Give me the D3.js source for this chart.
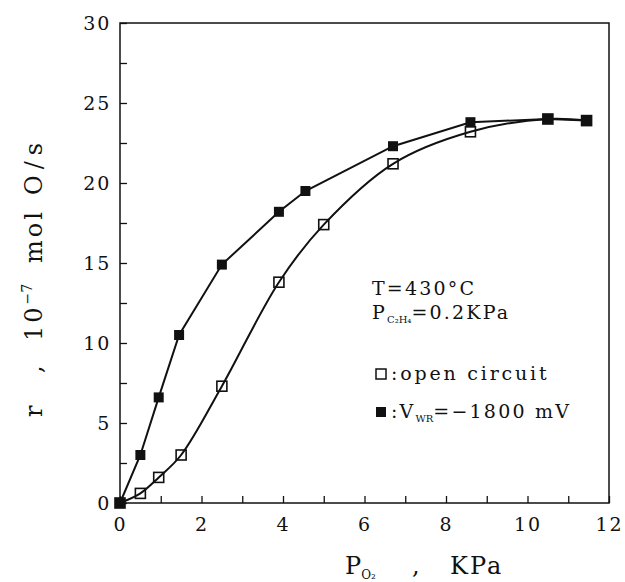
<!DOCTYPE html>
<meta charset="utf-8">
<style>
  body { margin: 0; background: #fff; }
  text { font-family: "DejaVu Serif", serif; fill: #111; }
  .tick text { font-size: 19px; letter-spacing: 2px; }
  .note { font-size: 19px; letter-spacing: 2.2px; }
</style>
<body>
<script src="https://cdn.jsdelivr.net/npm/d3@7"></script>
<script>
// P_O2 (KPa) and rate r (1e-7 mol O/s)
const xClosed = [0, 0.5, 0.95, 1.45, 2.5, 3.9, 4.55, 6.7, 8.6, 10.5, 11.45];
const yClosed = [0, 3.0, 6.6, 10.5, 14.9, 18.2, 19.5, 22.3, 23.8, 24.0, 23.9];
const xOpen = [0, 0.5, 0.95, 1.5, 2.5, 3.9, 5.0, 6.7, 8.6, 10.5, 11.45];
const yOpen = [0, 0.6, 1.6, 3.0, 7.3, 13.8, 17.4, 21.2, 23.2, 24.0, 23.9];
const xTicks = [0, 2, 4, 6, 8, 10, 12];
const yTicks = [0, 5, 10, 15, 20, 25, 30];

const W = 625, H = 582;
const m = { left: 120, right: 16, top: 23, bottom: 79 };

const svg = d3.select('body').append('svg')
  .attr('width', W).attr('height', H);

const x = d3.scaleLinear().domain([0, 12]).range([m.left, W - m.right]);
const y = d3.scaleLinear().domain([0, 30]).range([H - m.bottom, m.top]);

// frame
svg.append('rect')
  .attr('x', x(0)).attr('y', y(30))
  .attr('width', x(12) - x(0)).attr('height', y(0) - y(30))
  .attr('fill', 'none').attr('stroke', '#111').attr('stroke-width', 1.5);

// x axis, inward ticks
const gx = svg.append('g').attr('transform', `translate(0,${y(0)})`)
  .call(d3.axisBottom(x).tickValues(d3.range(0, 12.1, 1)).tickSize(-7)
    .tickFormat(d => xTicks.includes(d) ? d : ''));
gx.select('.domain').remove();
gx.selectAll('.tick line').attr('stroke', '#111').attr('stroke-width', 1.3);
gx.selectAll('.tick text').attr('dy', '1.3em');

// y axis, inward ticks
const gy = svg.append('g').attr('transform', `translate(${x(0)},0)`)
  .call(d3.axisLeft(y).tickValues(d3.range(0, 30.1, 2.5)).tickSize(-7)
    .tickFormat(d => yTicks.includes(d) ? d : ''));
gy.select('.domain').remove();
gy.selectAll('.tick line').attr('stroke', '#111').attr('stroke-width', 1.3);
gy.selectAll('.tick text').attr('dx', '-0.3em').attr('dy', '0.35em');

// axis titles (wide spacing as in the original typesetting)
const xl = svg.append('text').attr('y', 574).style('font-size', '24px');
xl.append('tspan').attr('x', 345).text('P');
xl.append('tspan').attr('dy', 5).style('font-size', '12px').text('O₂');
xl.append('tspan').attr('dy', -5).attr('x', 412).text(',');
xl.append('tspan').attr('x', 450).style('letter-spacing', '2px').text('KPa');

const yl = svg.append('text')
  .attr('transform', 'translate(42,417) rotate(-90)')
  .style('font-size', '24px');
yl.append('tspan').attr('x', 0).text('r');
yl.append('tspan').attr('x', 44).text(',');
yl.append('tspan').attr('x', 76).style('letter-spacing', '3px').text('10');
yl.append('tspan').attr('dy', -10).style('font-size', '14px').text('−7');
yl.append('tspan').attr('dy', 10).attr('x', 154).style('letter-spacing', '3px').text('mol');
yl.append('tspan').attr('x', 222).style('letter-spacing', '6px').text('O/s');

// series
const openPts = xOpen.map((d, i) => [d, yOpen[i]]);
const closedPts = xClosed.map((d, i) => [d, yClosed[i]]);

svg.append('path').datum(openPts)
  .attr('fill', 'none').attr('stroke', '#111').attr('stroke-width', 2)
  .attr('d', d3.line().x(d => x(d[0])).y(d => y(d[1])).curve(d3.curveCatmullRom));
svg.append('path').datum(closedPts)
  .attr('fill', 'none').attr('stroke', '#111').attr('stroke-width', 2)
  .attr('d', d3.line().x(d => x(d[0])).y(d => y(d[1])));

svg.selectAll('.open').data(openPts).enter().append('rect')
  .attr('x', d => x(d[0]) - 5).attr('y', d => y(d[1]) - 5)
  .attr('width', 10).attr('height', 10)
  .attr('fill', 'none').attr('stroke', '#111').attr('stroke-width', 1.6);
svg.selectAll('.closed').data(closedPts).enter().append('rect')
  .attr('x', d => x(d[0]) - 5).attr('y', d => y(d[1]) - 5)
  .attr('width', 10).attr('height', 10).attr('fill', '#111');

// annotation
svg.append('text').attr('class', 'note').attr('x', 372).attr('y', 295).text('T=430°C');
const t2 = svg.append('text').attr('class', 'note').attr('x', 372).attr('y', 319);
t2.append('tspan').text('P');
t2.append('tspan').attr('dy', 4).style('font-size', '10px').style('letter-spacing', '0px').text('C₂H₄');
t2.append('tspan').attr('dy', -4).text('=0.2KPa');

svg.append('rect').attr('x', 376).attr('y', 369).attr('width', 10).attr('height', 10)
  .attr('fill', 'none').attr('stroke', '#111').attr('stroke-width', 1.5);
svg.append('text').attr('class', 'note').attr('x', 391).attr('y', 380)
  .style('letter-spacing', '2.8px').text(':open circuit');

svg.append('rect').attr('x', 376).attr('y', 407).attr('width', 10).attr('height', 10)
  .attr('fill', '#111');
const t4 = svg.append('text').attr('class', 'note').attr('x', 391).attr('y', 418);
t4.append('tspan').text(':V');
t4.append('tspan').attr('dy', 4).style('font-size', '10px').style('letter-spacing', '0px').text('WR');
t4.append('tspan').attr('dy', -4).text('=−1800 mV');
</script>
</body>
